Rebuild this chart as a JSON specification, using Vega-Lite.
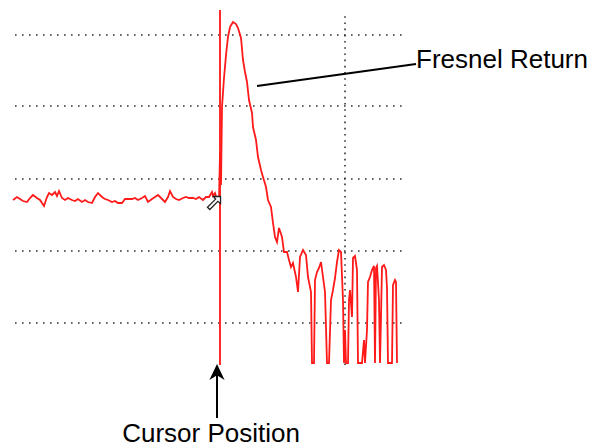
{
  "$schema": "https://vega.github.io/schema/vega-lite/v6.json",
  "width": 595,
  "height": 447,
  "autosize": "none",
  "padding": 0,
  "background": "white",
  "config": {"view": {"stroke": null}},
  "datasets": {
    "grid": [
      {"level": 412, "from": 15, "to": 403},
      {"level": 341, "from": 15, "to": 403},
      {"level": 268, "from": 15, "to": 403},
      {"level": 196, "from": 15, "to": 403},
      {"level": 124, "from": 15, "to": 403}
    ],
    "vgrid": [{"pos": 345, "lo": 82, "hi": 435}],
    "cursor": [{"pos": 220, "lo": 82, "hi": 437}],
    "trace": [
      {"i":0,"d":13,"v":247},{"i":1,"d":17,"v":250},{"i":2,"d":20,"v":248},{"i":3,"d":23,"v":246},
      {"i":4,"d":27,"v":245},{"i":5,"d":30,"v":249},{"i":6,"d":33,"v":252},{"i":7,"d":37,"v":249},
      {"i":8,"d":40,"v":247},{"i":9,"d":44,"v":241},{"i":10,"d":47,"v":250},{"i":11,"d":49,"v":254},
      {"i":12,"d":52,"v":252},{"i":13,"d":55,"v":255},{"i":14,"d":57,"v":251},{"i":15,"d":59,"v":256},
      {"i":16,"d":62,"v":249},{"i":17,"d":65,"v":247},{"i":18,"d":68,"v":249},{"i":19,"d":72,"v":247},
      {"i":20,"d":75,"v":246},{"i":21,"d":78,"v":248},{"i":22,"d":82,"v":245},{"i":23,"d":85,"v":247},
      {"i":24,"d":88,"v":245},{"i":25,"d":92,"v":244},{"i":26,"d":95,"v":250},{"i":27,"d":98,"v":254},
      {"i":28,"d":102,"v":250},{"i":29,"d":105,"v":248},{"i":30,"d":108,"v":247},{"i":31,"d":112,"v":245},
      {"i":32,"d":115,"v":246},{"i":33,"d":118,"v":244},{"i":34,"d":122,"v":244},{"i":35,"d":125,"v":248},
      {"i":36,"d":128,"v":248},{"i":37,"d":132,"v":248},{"i":38,"d":135,"v":249},{"i":39,"d":138,"v":247},
      {"i":40,"d":142,"v":249},{"i":41,"d":145,"v":251},{"i":42,"d":148,"v":245},{"i":43,"d":152,"v":248},
      {"i":44,"d":155,"v":250},{"i":45,"d":158,"v":252},{"i":46,"d":162,"v":248},{"i":47,"d":165,"v":245},
      {"i":48,"d":168,"v":250},{"i":49,"d":170,"v":256},{"i":50,"d":173,"v":250},{"i":51,"d":176,"v":248},
      {"i":52,"d":179,"v":247},{"i":53,"d":183,"v":249},{"i":54,"d":186,"v":250},{"i":55,"d":189,"v":249},
      {"i":56,"d":193,"v":249},{"i":57,"d":196,"v":248},{"i":58,"d":199,"v":250},{"i":59,"d":203,"v":247},
      {"i":60,"d":206,"v":250},{"i":61,"d":209,"v":250},{"i":62,"d":212,"v":255},{"i":63,"d":213,"v":251},
      {"i":64,"d":215,"v":254},{"i":65,"d":217,"v":248},{"i":66,"d":219,"v":247},{"i":67,"d":220,"v":294},
      {"i":68,"d":221,"v":262},{"i":69,"d":222,"v":340},{"i":70,"d":224,"v":369},{"i":71,"d":226,"v":392},
      {"i":72,"d":228,"v":410},{"i":73,"d":230,"v":420},{"i":74,"d":233,"v":425},{"i":75,"d":236,"v":423},
      {"i":76,"d":238,"v":419},{"i":77,"d":241,"v":409},{"i":78,"d":243,"v":387},{"i":79,"d":245,"v":375},
      {"i":80,"d":247,"v":365},{"i":81,"d":249,"v":347},{"i":82,"d":252,"v":334},{"i":83,"d":253,"v":320},
      {"i":84,"d":256,"v":307},{"i":85,"d":258,"v":290},{"i":86,"d":261,"v":277},{"i":87,"d":263,"v":270},
      {"i":88,"d":266,"v":260},{"i":89,"d":268,"v":247},{"i":90,"d":271,"v":240},{"i":91,"d":273,"v":224},
      {"i":92,"d":275,"v":210},{"i":93,"d":277,"v":205},{"i":94,"d":279,"v":219},{"i":95,"d":282,"v":210},
      {"i":96,"d":284,"v":195},{"i":97,"d":287,"v":195},{"i":98,"d":289,"v":187},{"i":99,"d":291,"v":180},
      {"i":100,"d":293,"v":184},{"i":101,"d":296,"v":170},{"i":102,"d":298,"v":155},{"i":103,"d":300,"v":190},
      {"i":104,"d":303,"v":197},{"i":105,"d":306,"v":192},{"i":106,"d":308,"v":170},{"i":107,"d":311,"v":155},
      {"i":108,"d":312,"v":84},{"i":109,"d":314,"v":84},{"i":110,"d":315,"v":167},{"i":111,"d":317,"v":175},
      {"i":112,"d":319,"v":179},{"i":113,"d":321,"v":185},{"i":114,"d":323,"v":170},{"i":115,"d":325,"v":155},
      {"i":116,"d":327,"v":84},{"i":117,"d":329,"v":84},{"i":118,"d":331,"v":147},{"i":119,"d":333,"v":157},
      {"i":120,"d":335,"v":169},{"i":121,"d":337,"v":185},{"i":122,"d":339,"v":197},{"i":123,"d":341,"v":195},
      {"i":124,"d":343,"v":147},{"i":125,"d":344,"v":84},{"i":126,"d":345,"v":117},{"i":127,"d":346,"v":84},
      {"i":128,"d":348,"v":84},{"i":129,"d":349,"v":147},{"i":130,"d":350,"v":157},{"i":131,"d":352,"v":130},
      {"i":132,"d":353,"v":189},{"i":133,"d":355,"v":191},{"i":134,"d":357,"v":177},{"i":135,"d":358,"v":84},
      {"i":136,"d":360,"v":84},{"i":137,"d":362,"v":84},{"i":138,"d":364,"v":107},{"i":139,"d":365,"v":84},
      {"i":140,"d":367,"v":117},{"i":141,"d":368,"v":165},{"i":142,"d":370,"v":170},{"i":143,"d":372,"v":177},
      {"i":144,"d":374,"v":181},{"i":145,"d":375,"v":84},{"i":146,"d":376,"v":179},{"i":147,"d":377,"v":181},
      {"i":148,"d":379,"v":147},{"i":149,"d":380,"v":84},{"i":150,"d":381,"v":130},{"i":151,"d":382,"v":180},
      {"i":152,"d":384,"v":182},{"i":153,"d":386,"v":177},{"i":154,"d":387,"v":159},{"i":155,"d":388,"v":84},
      {"i":156,"d":390,"v":84},{"i":157,"d":392,"v":84},{"i":158,"d":393,"v":162},{"i":159,"d":395,"v":167},
      {"i":160,"d":396,"v":165},{"i":161,"d":397,"v":84}
    ],
    "arrow": [{"pos": 217, "lo": 29, "hi": 75}],
    "leader": [{"x1": 257, "y1": 361, "x2": 416, "y2": 383}],
    "label1": [{"label": "Fresnel Return", "x": 416, "y": 379}],
    "label2": [{"label": "Cursor Position", "x": 211, "y": 5}],
    "marker": [{"x": 214, "y": 244}]
  },
  "layer": [
    {
      "data": {"name": "grid"},
      "mark": {"type": "rule", "color": "#333333", "strokeWidth": 1.6, "strokeDash": [1.6, 5.4]},
      "encoding": {
        "x": {"field": "from", "type": "quantitative", "scale": {"domain": [0, 595]}, "axis": null},
        "x2": {"field": "to"},
        "y": {"field": "level", "type": "quantitative", "scale": {"domain": [0, 447]}, "axis": null}
      }
    },
    {
      "data": {"name": "vgrid"},
      "mark": {"type": "rule", "color": "#333333", "strokeWidth": 1.6, "strokeDash": [1.6, 4.6]},
      "encoding": {
        "x": {"field": "pos", "type": "quantitative", "scale": {"domain": [0, 595]}, "axis": null},
        "y": {"field": "lo", "type": "quantitative", "scale": {"domain": [0, 447]}, "axis": null},
        "y2": {"field": "hi"}
      }
    },
    {
      "data": {"name": "cursor"},
      "mark": {"type": "rule", "color": "#ff2a2a", "strokeWidth": 2},
      "encoding": {
        "x": {"field": "pos", "type": "quantitative", "scale": {"domain": [0, 595]}, "axis": null},
        "y": {"field": "lo", "type": "quantitative", "scale": {"domain": [0, 447]}, "axis": null},
        "y2": {"field": "hi"}
      }
    },
    {
      "data": {"name": "trace"},
      "mark": {"type": "line", "color": "#ff1a1a", "strokeWidth": 1.8, "strokeJoin": "miter"},
      "encoding": {
        "x": {"field": "d", "type": "quantitative", "scale": {"domain": [0, 595]}, "axis": null},
        "y": {"field": "v", "type": "quantitative", "scale": {"domain": [0, 447]}, "axis": null},
        "order": {"field": "i", "type": "quantitative"}
      }
    },
    {
      "data": {"name": "arrow"},
      "mark": {"type": "rule", "color": "black", "strokeWidth": 2},
      "encoding": {
        "x": {"field": "pos", "type": "quantitative", "scale": {"domain": [0, 595]}, "axis": null},
        "y": {"field": "lo", "type": "quantitative", "scale": {"domain": [0, 447]}, "axis": null},
        "y2": {"field": "hi"}
      }
    },
    {
      "data": {"name": "arrow"},
      "mark": {"type": "point", "shape": "M0,-1L0.95,1L0,0.4L-0.95,1Z", "size": 256, "filled": true, "color": "black", "opacity": 1},
      "encoding": {
        "x": {"field": "pos", "type": "quantitative", "scale": {"domain": [0, 595]}, "axis": null},
        "y": {"field": "hi", "type": "quantitative", "scale": {"domain": [0, 447]}, "axis": null}
      }
    },
    {
      "data": {"name": "leader"},
      "mark": {"type": "rule", "color": "black", "strokeWidth": 2},
      "encoding": {
        "x": {"field": "x1", "type": "quantitative", "scale": {"domain": [0, 595]}, "axis": null},
        "y": {"field": "y1", "type": "quantitative", "scale": {"domain": [0, 447]}, "axis": null},
        "x2": {"field": "x2"},
        "y2": {"field": "y2"}
      }
    },
    {
      "data": {"name": "marker"},
      "mark": {"type": "point", "shape": "M1,-1L-0.1,-1L0.25,-0.6L-1,0.65L-0.65,1L0.6,-0.25L1,0.1Z", "size": 170, "filled": false, "stroke": "#222222", "strokeWidth": 1.3, "fill": "white", "opacity": 1},
      "encoding": {
        "x": {"field": "x", "type": "quantitative", "scale": {"domain": [0, 595]}, "axis": null},
        "y": {"field": "y", "type": "quantitative", "scale": {"domain": [0, 447]}, "axis": null}
      }
    },
    {
      "data": {"name": "label1"},
      "mark": {"type": "text", "font": "Liberation Sans", "fontSize": 26, "color": "black", "baseline": "alphabetic", "align": "left"},
      "encoding": {
        "x": {"field": "x", "type": "quantitative", "scale": {"domain": [0, 595]}, "axis": null},
        "y": {"field": "y", "type": "quantitative", "scale": {"domain": [0, 447]}, "axis": null},
        "text": {"field": "label"}
      }
    },
    {
      "data": {"name": "label2"},
      "mark": {"type": "text", "font": "Liberation Sans", "fontSize": 26, "color": "black", "baseline": "alphabetic", "align": "center"},
      "encoding": {
        "x": {"field": "x", "type": "quantitative", "scale": {"domain": [0, 595]}, "axis": null},
        "y": {"field": "y", "type": "quantitative", "scale": {"domain": [0, 447]}, "axis": null},
        "text": {"field": "label"}
      }
    }
  ]
}
